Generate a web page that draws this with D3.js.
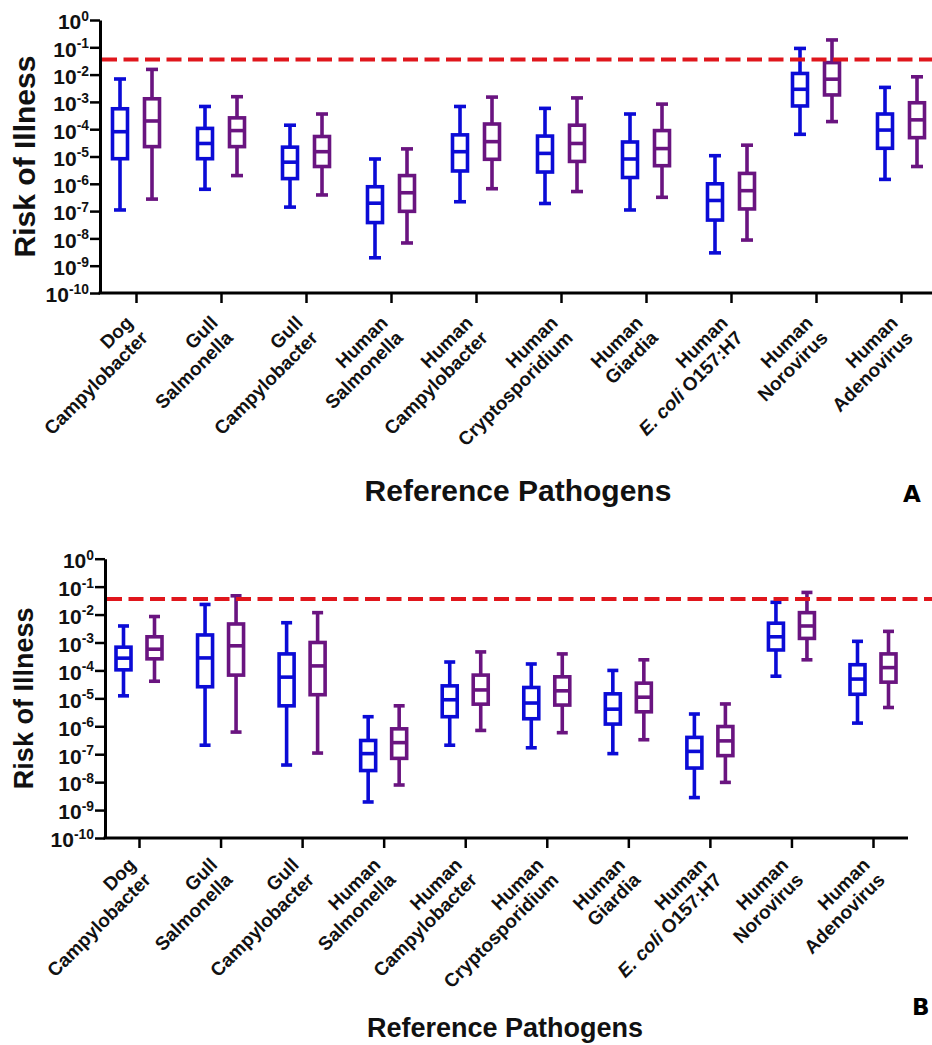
<!DOCTYPE html>
<html>
<head>
<meta charset="utf-8">
<script src="https://cdn.jsdelivr.net/npm/d3@7"></script>
<style>
  body { margin: 0; background: #fff; }
  svg { display: block; font-family: "Liberation Sans", Arial, Helvetica, sans-serif; }
</style>
</head>
<body>
<svg id="fig" width="932" height="1045"></svg>
<script>
// Reference pathogens: host (first line) and pathogen (second line)
const hosts = ["Dog", "Gull", "Gull", "Human", "Human", "Human", "Human", "Human", "Human", "Human"];
const pathogens = ["Campylobacter", "Salmonella", "Campylobacter", "Salmonella", "Campylobacter",
                   "Cryptosporidium", "Giardia", "E. coli O157:H7", "Norovirus", "Adenovirus"];

// Log-axis tick values 10^0 ... 10^-10
const yTickValues = [1e0, 1e-1, 1e-2, 1e-3, 1e-4, 1e-5, 1e-6, 1e-7, 1e-8, 1e-9, 1e-10];

// Benchmark risk (36 illnesses per 1000)
const benchmark = 0.036;

// Box summaries per pathogen: [whisker low, Q1, median, Q3, whisker high]
const aBlue = [
  [1.1e-7, 8.3e-6, 8.1e-5, 5.6e-4, 6.9e-3],
  [6.3e-7, 8.3e-6, 3.0e-5, 1.07e-4, 6.8e-4],
  [1.4e-7, 1.55e-6, 6.2e-6, 2.2e-5, 1.4e-4],
  [1.95e-9, 3.8e-8, 1.95e-7, 7.8e-7, 8.1e-6],
  [2.2e-7, 2.95e-6, 1.5e-5, 6.2e-5, 6.8e-4],
  [1.9e-7, 2.7e-6, 1.3e-5, 5.6e-5, 5.8e-4],
  [1.1e-7, 1.7e-6, 8.1e-6, 3.4e-5, 3.6e-4],
  [2.95e-9, 4.7e-8, 2.45e-7, 1.0e-6, 1.07e-5],
  [6.5e-5, 7.1e-4, 2.9e-3, 1.1e-2, 9.1e-2],
  [1.45e-6, 2.0e-5, 9.3e-5, 3.6e-4, 3.4e-3]
];
const aPurple = [
  [2.75e-7, 2.3e-5, 2.0e-4, 1.3e-3, 1.55e-2],
  [2.0e-6, 2.3e-5, 8.9e-5, 2.6e-4, 1.55e-3],
  [3.9e-7, 4.3e-6, 1.5e-5, 5.4e-5, 3.6e-4],
  [6.8e-9, 9.8e-8, 4.7e-7, 2.0e-6, 1.9e-5],
  [6.6e-7, 7.9e-6, 3.5e-5, 1.55e-4, 1.5e-3],
  [5.2e-7, 6.6e-6, 3.0e-5, 1.4e-4, 1.4e-3],
  [3.2e-7, 4.6e-6, 1.95e-5, 8.9e-5, 8.3e-4],
  [8.7e-9, 1.2e-7, 5.6e-7, 2.4e-6, 2.6e-5],
  [1.9e-4, 1.8e-3, 6.8e-3, 2.75e-2, 1.86e-1],
  [4.3e-6, 4.9e-5, 2.2e-4, 9.3e-4, 8.3e-3]
];
const bBlue = [
  [1.23e-5, 1.05e-4, 2.75e-4, 6.8e-4, 3.9e-3],
  [2.1e-7, 2.6e-5, 2.8e-4, 1.86e-3, 2.3e-2],
  [4.1e-8, 5.4e-6, 5.75e-5, 3.9e-4, 5.1e-3],
  [1.95e-9, 2.6e-8, 1.05e-7, 3.1e-7, 2.2e-6],
  [2.1e-7, 2.2e-6, 8.9e-6, 2.8e-5, 2.0e-4],
  [1.7e-7, 1.86e-6, 6.8e-6, 2.45e-5, 1.7e-4],
  [1.05e-7, 1.2e-6, 4.1e-6, 1.45e-5, 1.0e-4],
  [2.8e-9, 3.2e-8, 1.26e-7, 4.0e-7, 2.75e-6],
  [6.2e-5, 5.4e-4, 1.6e-3, 4.9e-3, 2.75e-2],
  [1.3e-6, 1.4e-5, 4.9e-5, 1.6e-4, 1.1e-3]
];
const bPurple = [
  [4.1e-5, 2.6e-4, 5.75e-4, 1.6e-3, 8.5e-3],
  [6.2e-7, 6.8e-5, 7.6e-4, 4.6e-3, 4.7e-2],
  [1.1e-7, 1.35e-5, 1.45e-4, 1.0e-3, 1.17e-2],
  [7.9e-9, 7.1e-8, 2.6e-7, 8.1e-7, 5.4e-6],
  [7.1e-7, 6.2e-6, 2.0e-5, 6.8e-5, 4.6e-4],
  [5.9e-7, 5.75e-6, 1.86e-5, 5.9e-5, 3.9e-4],
  [3.3e-7, 3.3e-6, 1.1e-5, 3.5e-5, 2.4e-4],
  [9.8e-9, 8.9e-8, 3.0e-7, 9.8e-7, 6.3e-6],
  [2.4e-4, 1.4e-3, 3.9e-3, 1.17e-2, 6.2e-2],
  [4.7e-6, 3.8e-5, 1.26e-4, 3.9e-4, 2.5e-3]
];

const BLUE = "#0b0bd6";
const PURPLE = "#6a1480";
const RED = "#e0161c";

const svg = d3.select("#fig");
svg.append("rect").attr("width", 932).attr("height", 1045).attr("fill", "#fff");

function drawPanel(L, blue, purple) {
  const g = svg.append("g");
  const cats = d3.range(hosts.length);

  const y = d3.scaleLog().domain([1e-10, 1]).range([L.yBottom, L.yTop]);
  const x = d3.scalePoint().domain(cats).range([L.xFirst, L.xLast]);

  // y axis with 10^n labels
  const yAxis = g.append("g")
    .attr("transform", `translate(${L.axisX},0)`)
    .call(d3.axisLeft(y).tickValues(yTickValues).tickSize(10).tickSizeOuter(0).tickPadding(1).tickFormat(() => ""));
  yAxis.select(".domain").attr("stroke", "#000").attr("stroke-width", 3);
  yAxis.selectAll(".tick line").attr("stroke", "#000").attr("stroke-width", 2.5);
  yAxis.selectAll(".tick text").each(function (d) {
    const t = d3.select(this)
      .attr("fill", "#111")
      .attr("font-family", "'Liberation Sans', Arial, sans-serif")
      .attr("font-weight", "bold")
      .attr("font-size", L.tickFont)
      .attr("text-anchor", "end")
      .attr("dy", "0.42em");
    t.text("10");
    t.append("tspan")
      .attr("font-size", L.tickFont * 0.66)
      .attr("dy", -L.tickFont * 0.4)
      .text(String(Math.round(Math.log10(d))));
  });

  // x axis line and ticks
  g.append("line")
    .attr("x1", L.axisX - 1.5).attr("x2", L.xRight)
    .attr("y1", L.yBottom).attr("y2", L.yBottom)
    .attr("stroke", "#000").attr("stroke-width", 3);
  const xAxis = g.append("g")
    .attr("transform", `translate(0,${L.yBottom})`)
    .call(d3.axisBottom(x).tickSize(10).tickSizeOuter(0).tickFormat(() => ""));
  xAxis.select(".domain").remove();
  xAxis.selectAll(".tick line").attr("stroke", "#000").attr("stroke-width", 2.5);

  // category labels, rotated 45 degrees and right-aligned below each tick
  cats.forEach(i => {
    const t = g.append("text")
      .attr("transform", `translate(${x(i) + L.labelDx},${L.yBottom + L.labelDy}) rotate(-45)`)
      .attr("text-anchor", "end")
      .attr("font-weight", "bold")
      .attr("font-size", L.labelFont)
      .attr("fill", "#111");
    t.append("tspan").attr("x", 0).attr("y", 0).text(hosts[i]);
    const p = pathogens[i];
    if (p.startsWith("E. coli")) {
      t.append("tspan").attr("x", 0).attr("dy", "1.12em").attr("font-style", "italic").text("E. coli");
      t.append("tspan").attr("dx", 5).text(p.slice(8));
    } else {
      t.append("tspan").attr("x", 0).attr("dy", "1.12em").text(p);
    }
  });

  // box plots
  const series = [
    { data: blue, color: BLUE, off: -L.offset },
    { data: purple, color: PURPLE, off: L.offset }
  ];
  series.forEach(s => {
    s.data.forEach((v, i) => {
      const cx = x(i) + s.off;
      const [lo, q1, med, q3, hi] = v;
      const bg = g.append("g").attr("stroke", s.color).attr("stroke-width", 3.6).attr("fill", "none");
      bg.append("line").attr("x1", cx).attr("x2", cx).attr("y1", y(hi)).attr("y2", y(q3));
      bg.append("line").attr("x1", cx).attr("x2", cx).attr("y1", y(q1)).attr("y2", y(lo));
      bg.append("line").attr("x1", cx - L.capW / 2).attr("x2", cx + L.capW / 2).attr("y1", y(hi)).attr("y2", y(hi));
      bg.append("line").attr("x1", cx - L.capW / 2).attr("x2", cx + L.capW / 2).attr("y1", y(lo)).attr("y2", y(lo));
      bg.append("rect")
        .attr("x", cx - L.boxW / 2).attr("width", L.boxW)
        .attr("y", y(q3)).attr("height", y(q1) - y(q3))
        .attr("fill", "#fff");
      bg.append("line").attr("x1", cx - L.boxW / 2).attr("x2", cx + L.boxW / 2).attr("y1", y(med)).attr("y2", y(med));
    });
  });

  // benchmark line
  g.append("line")
    .attr("x1", L.axisX + 2).attr("x2", 932)
    .attr("y1", y(benchmark)).attr("y2", y(benchmark))
    .attr("stroke", RED).attr("stroke-width", 4)
    .attr("stroke-dasharray", "15 6.5");

  // axis titles
  g.append("text")
    .attr("transform", `translate(${L.yTitleX},${(L.yTop + L.yBottom) / 2}) rotate(-90)`)
    .attr("text-anchor", "middle")
    .attr("font-weight", "bold").attr("font-size", L.yTitleFont).attr("fill", "#111")
    .text("Risk of Illness");
  g.append("text")
    .attr("x", L.titleX).attr("y", L.titleY)
    .attr("text-anchor", "middle")
    .attr("font-weight", "bold").attr("font-size", L.titleFont).attr("fill", "#111")
    .text("Reference Pathogens");

  // panel letter
  g.append("text")
    .attr("x", L.letterX).attr("y", L.letterY)
    .attr("font-family", "'DejaVu Sans', Verdana, sans-serif")
    .attr("font-weight", "bold").attr("font-size", 23).attr("fill", "#000")
    .text(L.letter);
}

drawPanel({
  axisX: 100, yTop: 20, yBottom: 293, xFirst: 136, xLast: 901, xRight: 932,
  offset: 16, boxW: 15, capW: 12, tickFont: 21, labelFont: 19, labelDx: -2, labelDy: 31,
  yTitleX: 35, yTitleFont: 30, titleX: 518, titleY: 501, titleFont: 30,
  letter: "A", letterX: 903, letterY: 502
}, aBlue, aPurple);

drawPanel({
  axisX: 105, yTop: 558.7, yBottom: 838, xFirst: 139, xLast: 873, xRight: 908,
  offset: 15.5, boxW: 15, capW: 11, tickFont: 21, labelFont: 19, labelDx: -2, labelDy: 28,
  yTitleX: 33, yTitleFont: 27, titleX: 505, titleY: 1037, titleFont: 27,
  letter: "B", letterX: 912, letterY: 1015
}, bBlue, bPurple);
</script>
</body>
</html>
